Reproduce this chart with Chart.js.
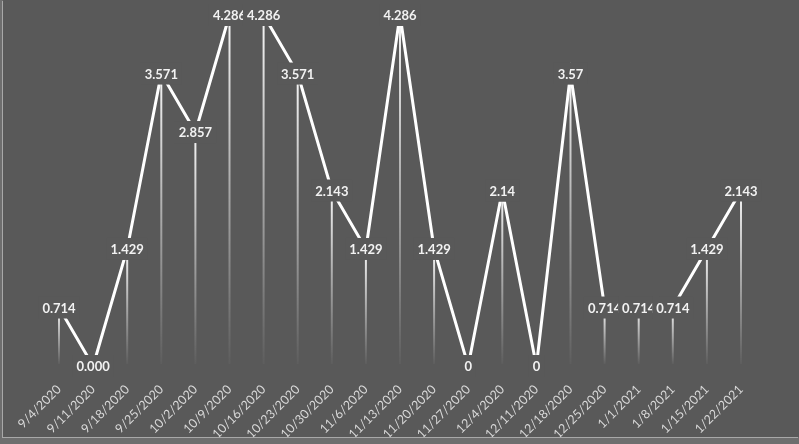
<!DOCTYPE html>
<html>
<head>
<meta charset="utf-8">
<script src="https://cdn.jsdelivr.net/npm/chart.js@4.4.1/dist/chart.umd.min.js"></script>
<style>
    body { margin: 0; background: #6e6e6e; width: 799px; height: 444px; overflow: hidden; }
    #wrap { position: absolute; left: 3px; top: 0; width: 796px; height: 437px; background: #595959; box-shadow: -1px 1px 0 #a8a8a8; }
    canvas { display: block; }
</style>
</head>
<body>
<div id="wrap"><canvas id="chart" width="796" height="437"></canvas></div>
<script>
"use strict";

var weeks = ['9/4/2020', '9/11/2020', '9/18/2020', '9/25/2020', '10/2/2020', '10/9/2020',
    '10/16/2020', '10/23/2020', '10/30/2020', '11/6/2020', '11/13/2020', '11/20/2020',
    '11/27/2020', '12/4/2020', '12/11/2020', '12/18/2020', '12/25/2020', '1/1/2021',
    '1/8/2021', '1/15/2021', '1/22/2021'];

var values = [0.714, 0, 1.429, 3.571, 2.857, 4.286, 4.286, 3.571, 2.143, 1.429, 4.286,
    1.429, 0, 2.14, 0, 3.57, 0.714, 0.714, 0.714, 1.429, 2.143];

// the labels are shown as typed in the sheet, not all with three decimals
var valueLabels = ['0.714', '0.000', '1.429', '3.571', '2.857', '4.286', '4.286', '3.571',
    '2.143', '1.429', '4.286', '1.429', '0', '2.14', '0', '3.57', '0.714', '0.714', '0.714',
    '1.429', '2.143'];

var BG = '#595959';

// vertical fading lines from each point down to the axis
var dropLines = {
    id: 'dropLines',
    beforeDatasetsDraw: function (chart) {
        var ctx = chart.ctx;
        var bottom = chart.chartArea.bottom - 2;
        var meta = chart.getDatasetMeta(0);
        ctx.save();
        ctx.lineWidth = 2;
        meta.data.forEach(function (pt) {
            if (bottom - pt.y < 2) { return; }
            var grad = ctx.createLinearGradient(0, pt.y, 0, bottom);
            grad.addColorStop(0, 'rgba(255,255,255,0.95)');
            grad.addColorStop(1, 'rgba(255,255,255,0.03)');
            ctx.strokeStyle = grad;
            ctx.beginPath();
            ctx.moveTo(pt.x, pt.y);
            ctx.lineTo(pt.x, bottom);
            ctx.stroke();
        });
        ctx.restore();
    }
};

// value labels centred on the points, on a box of the background colour
var pointLabels = {
    id: 'pointLabels',
    afterDatasetsDraw: function (chart) {
        var ctx = chart.ctx;
        var meta = chart.getDatasetMeta(0);
        ctx.save();
        ctx.font = 'bold 13px Lato';
        ctx.textAlign = 'center';
        ctx.textBaseline = 'middle';
        meta.data.forEach(function (pt, i) {
            var text = valueLabels[i];
            var w = ctx.measureText(text).width;
            ctx.fillStyle = BG;
            ctx.fillRect(pt.x - w / 2 - 4, pt.y - 11, w + 8, 22);
            ctx.fillStyle = '#f2f2f2';
            ctx.fillText(text, pt.x, pt.y + 1);
        });
        ctx.restore();
    }
};

new Chart(document.getElementById('chart'), {
    type: 'line',
    data: {
        labels: weeks,
        datasets: [{
            data: values,
            borderColor: '#ffffff',
            borderWidth: 3,
            pointRadius: 0,
            tension: 0,
            clip: false
        }]
    },
    options: {
        responsive: false,
        animation: false,
        layout: { padding: { left: 56, right: 58, top: 15, bottom: 0 } },
        plugins: {
            legend: { display: false },
            tooltip: { enabled: false }
        },
        scales: {
            x: {
                offset: false,
                grid: { display: false },
                border: { display: false },
                ticks: {
                    color: '#d9d9d9',
                    font: { family: 'Lato', size: 12.5 },
                    minRotation: 45,
                    maxRotation: 45,
                    autoSkip: false,
                    padding: 8
                },
                afterFit: function (scale) { scale.height = 71; }
            },
            y: {
                display: false,
                min: 0,
                max: 4.286
            }
        }
    },
    plugins: [dropLines, pointLabels]
});
</script>
</body>
</html>
